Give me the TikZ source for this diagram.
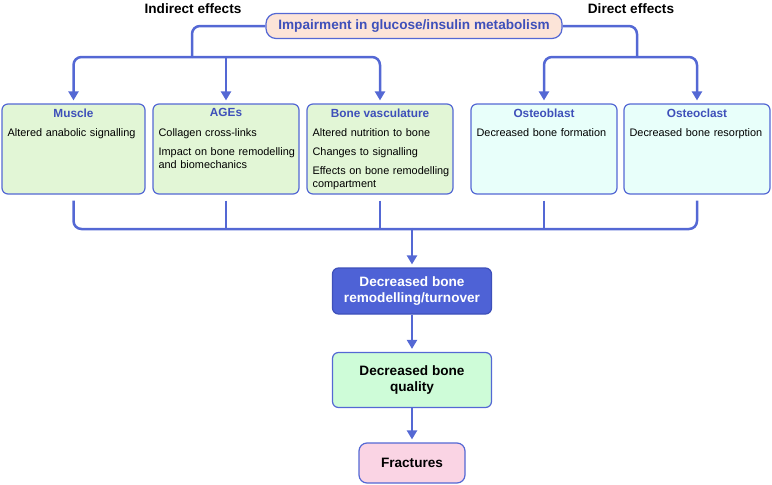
\documentclass[tikz,border=0pt]{standalone}
\usepackage{fontspec}
\setmainfont{Liberation Sans}
\usetikzlibrary{arrows.meta, positioning}
\usepackage{xcolor}

\definecolor{linkblue}{RGB}{84,104,212}
\definecolor{headblue}{RGB}{62,80,186}
\definecolor{indgreen}{RGB}{226,246,214}
\definecolor{dircyan}{RGB}{232,255,250}
\definecolor{peach}{RGB}{252,228,216}
\definecolor{remodblue}{RGB}{78,98,214}
\definecolor{qualgreen}{RGB}{206,252,216}
\definecolor{fractpink}{RGB}{250,212,228}

\tikzset{
	effectbox/.style = {draw=linkblue, line width=1.2pt, rounded corners=6pt, minimum height=90pt, inner sep=0pt},
	boxtitle/.style = {inner sep=0pt, text=headblue, font=\fontsize{11.8}{14}\selectfont\bfseries},
	boxbody/.style = {inner sep=0pt, text width=140pt, align=left, font=\fontsize{10.9}{13}\selectfont},
	chainbox/.style = {draw=linkblue, line width=1.2pt, rounded corners=6pt, align=center, font=\fontsize{13.6}{16}\selectfont\bfseries},
	link/.style = {draw=linkblue, line width=2.5pt},
	linkarrow/.style = {link, -{Triangle[width=10pt,length=9pt]}, shorten >=3pt}
}

\begin{document}
\begin{tikzpicture}[x=1pt, y=-1pt]
	\useasboundingbox (0,0) rectangle (772,485);

	\draw (414,26) node[chainbox, fill=peach, text=headblue, rounded corners=10pt, minimum width=296pt, minimum height=25pt, inner sep=0pt] (impair) {Impairment in glucose/insulin metabolism}
	(193,9) node[font=\fontsize{13.6}{16}\selectfont\bfseries, inner sep=0pt] (indirect) {Indirect effects}
	(631,9) node[font=\fontsize{13.6}{16}\selectfont\bfseries, inner sep=0pt] (direct) {Direct effects};

	% effect boxes
	\draw (73.5,149) node[effectbox, fill=indgreen, minimum width=143pt] (musc) {}
	(226,149) node[effectbox, fill=indgreen, minimum width=146pt] (ages) {}
	(380,149) node[effectbox, fill=indgreen, minimum width=146pt] (vasc) {}
	(544,149) node[effectbox, fill=dircyan, minimum width=146pt] (oblast) {}
	(697,149) node[effectbox, fill=dircyan, minimum width=146pt] (oclast) {};

	\node[boxtitle, below=5pt of musc.north] (musctitle) {Muscle};
	\node[boxtitle, below=5pt of ages.north] (agestitle) {AGEs};
	\node[boxtitle, below=5pt of vasc.north] (vasctitle) {Bone vasculature};
	\node[boxtitle, below=5pt of oblast.north] (oblasttitle) {Osteoblast};
	\node[boxtitle, below=5pt of oclast.north] (oclasttitle) {Osteoclast};

	\node[boxbody, anchor=north west] (muscbody) at ([xshift=6pt, yshift=-25pt]musc.north west) {Altered anabolic signalling};
	\node[boxbody, anchor=north west] (agesbody) at ([xshift=6pt, yshift=-25pt]ages.north west) {Collagen cross-links\\[6pt] Impact on bone remodelling\\ and biomechanics};
	\node[boxbody, anchor=north west] (vascbody) at ([xshift=6pt, yshift=-25pt]vasc.north west) {Altered nutrition to bone\\[6pt] Changes to signalling\\[6pt] Effects on bone remodelling\\ compartment};
	\node[boxbody, anchor=north west] (oblastbody) at ([xshift=6pt, yshift=-25pt]oblast.north west) {Decreased bone formation};
	\node[boxbody, anchor=north west] (oclastbody) at ([xshift=6pt, yshift=-25pt]oclast.north west) {Decreased bone resorption};

	% outcome chain
	\draw (412,291) node[chainbox, fill=remodblue, draw=headblue, text=white, minimum width=159pt, minimum height=46pt] (remod) {Decreased bone\\ remodelling/turnover}
	(412,380) node[chainbox, fill=qualgreen, minimum width=159pt, minimum height=55pt] (quality) {Decreased bone\\ quality}
	(412,463) node[chainbox, fill=fractpink, rounded corners=8pt, minimum width=106pt, minimum height=40pt] (fract) {Fractures};

	\coordinate (lsplit) at (192,57);
	\coordinate (rsplit) at (637,57);
	\coordinate (merge) at (412,229);

	\draw[link, rounded corners=8pt] (impair.west) -| (lsplit);
	\draw[link, rounded corners=8pt] (impair.east) -| (rsplit);
	\draw[linkarrow, rounded corners=8pt] (lsplit) -| (musc);
	\draw[linkarrow] (ages.north |- lsplit) -- (ages);
	\draw[linkarrow, rounded corners=8pt] (lsplit) -| (vasc);
	\draw[linkarrow, rounded corners=8pt] (rsplit) -| (oblast);
	\draw[linkarrow, rounded corners=8pt] (rsplit) -| (oclast);

	\draw[link, rounded corners=8pt, shorten <=6pt] (musc) |- (merge);
	\draw[link, rounded corners=8pt, shorten <=6pt] (oclast) |- (merge);
	\draw[link, shorten <=6pt] (ages) -- (ages |- merge);
	\draw[link, shorten <=6pt] (vasc) -- (vasc |- merge);
	\draw[link, shorten <=6pt] (oblast) -- (oblast |- merge);

	\draw[linkarrow] (merge) -- (remod);
	\draw[linkarrow] (remod) -- (quality);
	\draw[linkarrow] (quality) -- (fract);
\end{tikzpicture}
\end{document}
